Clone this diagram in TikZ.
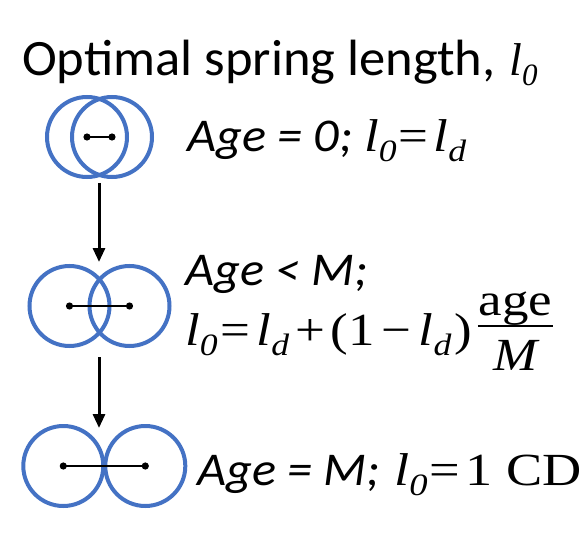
\documentclass[tikz,border=0pt]{standalone}
\usepackage{fontspec}
\setmainfont[FakeStretch=1.07]{Carlito}
\newfontfamily\ttlfont[FakeStretch=1.03]{Carlito}
\newfontfamily\tmsA[FakeStretch=1.18]{Liberation Serif}
\newfontfamily\tmsB[FakeStretch=1.15]{Liberation Serif}
\newfontfamily\tms{Liberation Serif}
\usetikzlibrary{arrows.meta}
\definecolor{cblue}{HTML}{4472C4}
\newlength\frw
\newcommand\el[1]{{\itshape l}\raisebox{-10bp}{\fontsize{31bp}{31bp}\selectfont\itshape #1}}
\newcommand\myfr[2]{\settowidth\frw{#1}\addtolength\frw{2bp}%
 \rlap{\raisebox{-25bp}{\makebox[\frw]{#2}}}\rlap{\raisebox{18bp}{\rule{\frw}{1.6bp}}}\raisebox{30bp}{\makebox[\frw]{#1}}}
\newcommand\mthA[1]{{\tmsA\upshape\fontsize{46bp}{50bp}\selectfont #1}}
\newcommand\mthB[1]{{\tmsB\upshape\fontsize{46bp}{50bp}\selectfont #1}}
\newcommand\mthT[1]{{\tms\upshape\fontsize{46bp}{50bp}\selectfont #1}}
\begin{document}
\begin{tikzpicture}[x=1bp,y=-1bp,
  ring/.style={circle, draw=cblue, line width=4bp, minimum size=80bp, inner sep=0pt},
  spring/.style={line width=1.8bp, black},
  dotc/.style={fill=black},
  arr/.style={line width=3bp, -{Triangle[length=14bp,width=12bp]}},
  lbl/.style={anchor=base west, inner sep=0pt, font=\fontsize{47bp}{56bp}\selectfont},
  ttl/.style={anchor=base west, inner sep=0pt, font=\ttlfont\fontsize{51bp}{60bp}\selectfont}]
\useasboundingbox (0,0) rectangle (582,539);
% title
\node[ttl] (title) at (22,76) {Optimal spring length,\kern14bp\mthT{\el{0}}};
% row 1
\node[ring] (c1a) at (87,137) {};
\node[ring] (c1b) at (112,137) {};
\draw[spring] (c1a.center) -- (c1b.center);
\fill[dotc] (c1a.center) circle (3.6bp) (c1b.center) circle (3.6bp);
\node[lbl] (t1) at (187,152) {\itshape Age = 0; \mthB{\el{0}\kern2bp=\kern5bp\el{d}}};
% row 2
\node[ring] (c2a) at (69.5,306) {};
\node[ring] (c2b) at (129.5,306) {};
\draw[spring] (c2a.center) -- (c2b.center);
\fill[dotc] (c2a.center) circle (3.6bp) (c2b.center) circle (3.6bp);
\node[lbl] (t2a) at (185,285) {\itshape Age {\fontsize{46bp}{46bp}\selectfont<} M;};
\node[lbl] (t2b) at (185,345) {\mthB{\el{0}\kern3bp=\kern6bp\el{d}\kern6bp+\kern6bp(1\kern7bp−\kern7bp\el{d}\kern3bp)\kern6bp\myfr{age}{\itshape M}}};
% row 3
\node[ring] (c3a) at (63.3,466) {};
\node[ring] (c3b) at (145.3,466) {};
\draw[spring] (c3a.center) -- (c3b.center);
\fill[dotc] (c3a.center) circle (3.6bp) (c3b.center) circle (3.6bp);
\node[lbl] (t3) at (197,485) {\itshape Age = M;\kern14bp\mthA{\el{0}\kern2bp=\kern5bp1 CD}};
% arrows
\coordinate (a1s) at (99,183);
\coordinate (a1e) at (99,262);
\coordinate (a2s) at (99,357);
\coordinate (a2e) at (99,428);
\draw[arr] (a1s) -- (a1e);
\draw[arr] (a2s) -- (a2e);
\end{tikzpicture}
\end{document}
